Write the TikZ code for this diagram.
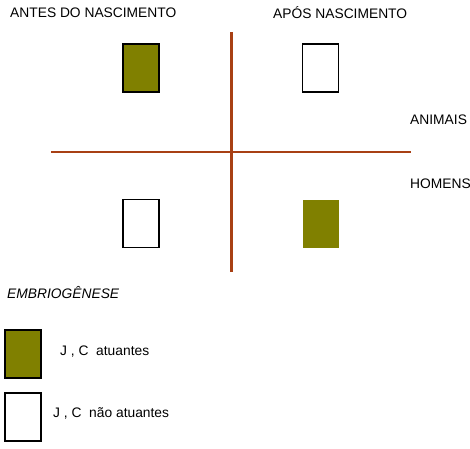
\documentclass[tikz,border=0pt]{standalone}
\usepackage{fontspec}
\setmainfont{Liberation Sans}
\definecolor{olivebox}{RGB}{128,128,0}
\definecolor{axisbrown}{RGB}{168,64,20}
\begin{document}
\begin{tikzpicture}[x=1pt,y=-1pt,
  lbl/.style={anchor=west,inner sep=0pt,font=\fontsize{13.8}{16}\selectfont},
  fullbox/.style={draw=black,line width=1.3pt,fill=olivebox,minimum width=36pt,minimum height=48pt,inner sep=0pt},
  emptybox/.style={draw=black,line width=1.3pt,fill=white,minimum width=36pt,minimum height=48pt,inner sep=0pt},
  plainbox/.style={fill=olivebox,minimum width=36pt,minimum height=48pt,inner sep=0pt},
  axis/.style={draw=axisbrown}]
\useasboundingbox (0,0) rectangle (470,448);
% axes
\coordinate (vtop) at (231,32);
\coordinate (vbot) at (231,272);
\coordinate (hl) at (51,152);
\coordinate (hr) at (411,152);
\draw[axis,line width=3pt] (vtop) -- (vbot);
\draw[axis,line width=2.2pt] (hl) -- (hr);
% boxes
\node[fullbox] (tl) at (141,68) {};
\node[emptybox] (tr) at (320.5,68) {};
\node[emptybox] (bl) at (141,223.5) {};
\node[plainbox] (br) at (320.5,223.5) {};
% labels
\node[lbl] (antes) at (10,13) {ANTES DO NASCIMENTO};
\node[lbl] (apos) at (273,13) {APÓS NASCIMENTO};
\node[lbl] (animais) at (410,120) {ANIMAIS};
\node[lbl] (homens) at (410,184) {HOMENS};
\node[lbl,font=\fontsize{13.8}{16}\selectfont\itshape] (embrio) at (7,293) {EMBRIOGÊNESE};
% legend
\node[fullbox] (leg1) at (23,354) {};
\node[emptybox] (leg2) at (23,417) {};
\node[lbl] (t1) at (60,352) {J , C\ \ atuantes};
\node[lbl] (t2) at (53,413) {J , C\ \ não atuantes};
\end{tikzpicture}
\end{document}
